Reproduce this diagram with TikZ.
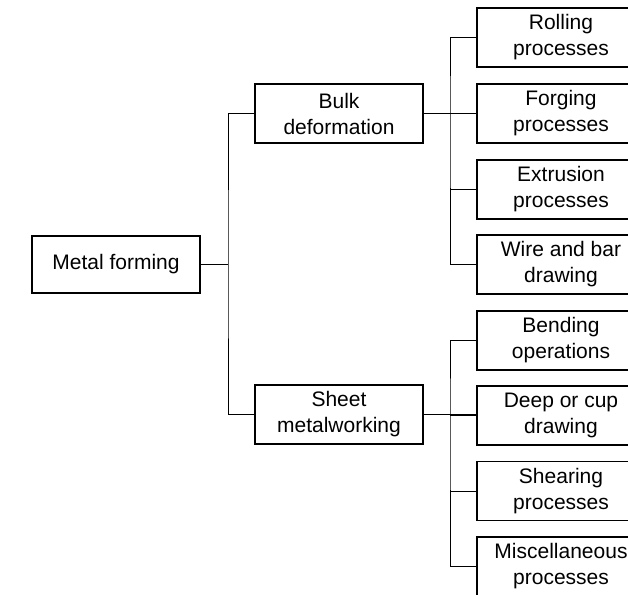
\documentclass[tikz,border=0pt]{standalone}
\usepackage{fontspec}
\setmainfont{Liberation Sans}
\begin{document}
\begin{tikzpicture}[x=1pt,y=-1pt,
  box/.style={draw, line width=1.6pt, minimum width=168pt, minimum height=59pt,
    inner sep=0pt, align=center, font=\fontsize{21}{26}\selectfont},
  link/.style={line width=1pt}]
\useasboundingbox (0,0) rectangle (628,594);
\clip (0,0) rectangle (628,594);

% root and second level
\node[box, minimum height=57pt] (mf) at (116,264.5) {Metal forming};
\node[box] (bulk)  at (339,113.5) {Bulk\\deformation};
\node[box] (sheet) at (339,414.5) {Sheet\\metalworking};

% bulk deformation processes
\node[box] (roll)  at (561,37.5)  {Rolling\\processes};
\node[box] (forge) at (561,113.5) {Forging\\processes};
\node[box] (ext)   at (561,189.5) {Extrusion\\processes};
\node[box] (wire)  at (561,264.5) {Wire and bar\\drawing};

% sheet metalworking processes
\node[box] (bend)  at (561,340.5) {Bending\\operations};
\node[box] (deep)  at (561,415.5) {Deep or cup\\drawing};
\node[box] (shear) at (561,491)   {Shearing\\processes};
\node[box] (misc)  at (561,566.5) {Miscellaneous\\processes};

% junction points on the vertical buses
\coordinate (j1) at (228,264.5);
\coordinate (j2) at (450,113.5);
\coordinate (j3) at (450,415.5);

% root to second level
\draw[link] (mf.east) -- (j1);
\draw[link] (bulk.west) -| (j1) |- (sheet.west);

% bulk deformation branch
\draw[link] (bulk.east) -- (forge.west);
\draw[link] (roll.west) -| (j2) |- (wire.west);
\draw[link] (ext.west) -- (ext.west -| j2);

% sheet metalworking branch
\draw[link] (sheet.east) -- (sheet.east -| deep.west);
\draw[link] (bend.west) -| (j3) |- (misc.west);
\draw[link] (deep.west) -- (deep.west -| j3);
\draw[link] (shear.west) -- (shear.west -| j3);
\end{tikzpicture}
\end{document}
